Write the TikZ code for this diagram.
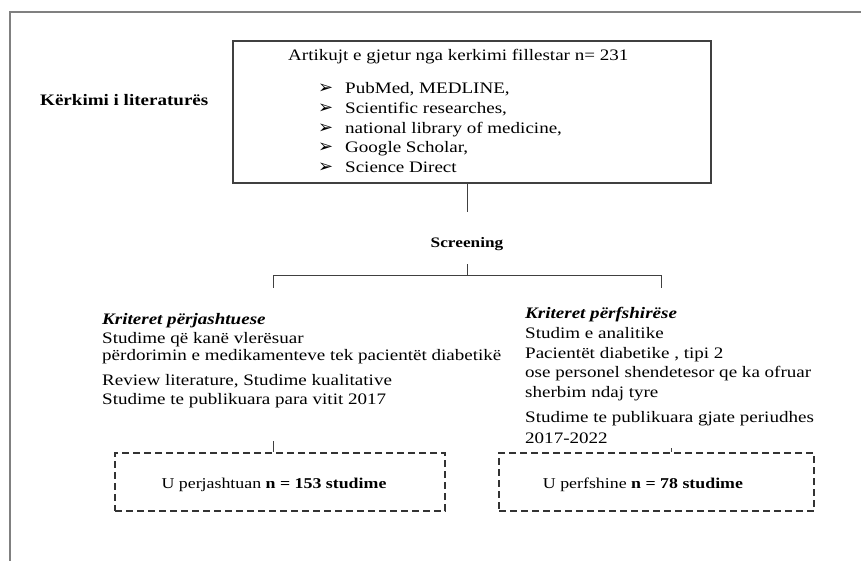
\documentclass[tikz,border=0pt]{standalone}
\usepackage{fontspec}
\setmainfont[FakeStretch=1.19]{Liberation Serif}
\newfontfamily\symfont{DejaVu Sans}
\usetikzlibrary{positioning}

\tikzset{
  frame/.style={draw=black!50, line width=1.6pt},
  link/.style={draw=black!75, line width=1pt},
  searchbox/.style={draw=black!75, line width=1.1pt, minimum width=478pt, minimum height=142pt, inner sep=0pt},
  resultbox/.style={draw=black!80, line width=1.3pt, dash pattern=on 7pt off 4pt, minimum height=58pt, inner sep=0pt},
  bodytext/.style={font=\fontsize{16}{19}\selectfont, inner sep=0pt, anchor=base west},
  headtext/.style={font=\fontsize{16}{19}\selectfont\bfseries\itshape, inner sep=0pt, anchor=base west},
}
\newcommand{\arrowbullet}{\makebox[27pt][l]{\symfont\fontsize{18}{18}\selectfont ➢}}

\begin{document}
\begin{tikzpicture}[x=1pt, y=-1pt]
    \useasboundingbox (0,0) rectangle (861,560);
    \clip (0,0) rectangle (861,560);

    % Outer frame (runs off the page to the right and below)
    \draw[frame] (10,600) -- (10,12) -- (900,12);

    % Search box and its contents
    \node[searchbox] (search) at (472,112) {};
    \node[bodytext] (found) at (288,60) {Artikujt e gjetur nga kerkimi fillestar n= 231};
    \node[bodytext] (src1) at (318,93) {\arrowbullet PubMed, MEDLINE,};
    \node[bodytext] (src2) at (318,113) {\arrowbullet Scientific researches,};
    \node[bodytext] (src3) at (318,133) {\arrowbullet national library of medicine,};
    \node[bodytext] (src4) at (318,152) {\arrowbullet Google Scholar,};
    \node[bodytext] (src5) at (318,172) {\arrowbullet Science Direct};
    \node[bodytext, font=\fontsize{16}{19}\selectfont\bfseries] (lit) at (40,105) {Kërkimi i literaturës};

    % Screening
    \node[inner sep=0pt, font=\fontsize{14.5}{16}\selectfont\bfseries, anchor=base] (screen) at (467,247) {Screening};
    \coordinate (drop) at (467,212);
    \coordinate (rise) at (467,264);
    \coordinate (fork) at (467,275);
    \coordinate (forkL) at (273,275);
    \coordinate (forkR) at (661,275);
    \draw[link] (drop |- search.south) -- (drop);
    \draw[link] (rise) -- (fork);
    \draw[link] (forkL) -- (forkR);
    \draw[link] (forkL) -- ++(0,13);
    \draw[link] (forkR) -- ++(0,13);

    % Exclusion criteria
    \node[headtext] (exclhead) at (102,324) {Kriteret përjashtuese};
    \node[bodytext] (excl1) at (102,343) {Studime që kanë vlerësuar};
    \node[bodytext] (excl2) at (102,360) {përdorimin e medikamenteve tek pacientët diabetikë};
    \node[bodytext] (excl3) at (102,385) {Review literature, Studime kualitative};
    \node[bodytext] (excl4) at (102,404) {Studime te publikuara para vitit 2017};

    % Inclusion criteria
    \node[headtext] (inclhead) at (525,318) {Kriteret përfshirëse};
    \node[bodytext] (incl1) at (525,338) {Studim e analitike};
    \node[bodytext] (incl2) at (525,358) {Pacientët diabetike , tipi 2};
    \node[bodytext] (incl3) at (525,377) {ose personel shendetesor qe ka ofruar};
    \node[bodytext] (incl4) at (525,397) {sherbim ndaj tyre};
    \node[bodytext] (incl5) at (525,422) {Studime te publikuara gjate periudhes};
    \node[bodytext] (incl6) at (525,443) {2017-2022};

    % Result boxes (dashed)
    \node[resultbox, minimum width=330pt] (exclbox) at (280,482) {};
    \node[resultbox, minimum width=315pt] (inclbox) at (656.5,482) {};
    \node[inner sep=0pt, anchor=base, font=\fontsize{15}{17}\selectfont] (excltext) at (274,488) {U perjashtuan \textbf{n = 153 studime}};
    \node[inner sep=0pt, anchor=base, font=\fontsize{15}{17}\selectfont] (incltext) at (643,488) {U perfshine \textbf{n = 78 studime}};

    % Short ticks onto the result boxes
    \coordinate (tickL) at (273,441);
    \coordinate (tickR) at (671,448);
    \draw[link] (tickL) -- (tickL |- exclbox.north);
    \draw[link] (tickR) -- (tickR |- inclbox.north);
\end{tikzpicture}
\end{document}
